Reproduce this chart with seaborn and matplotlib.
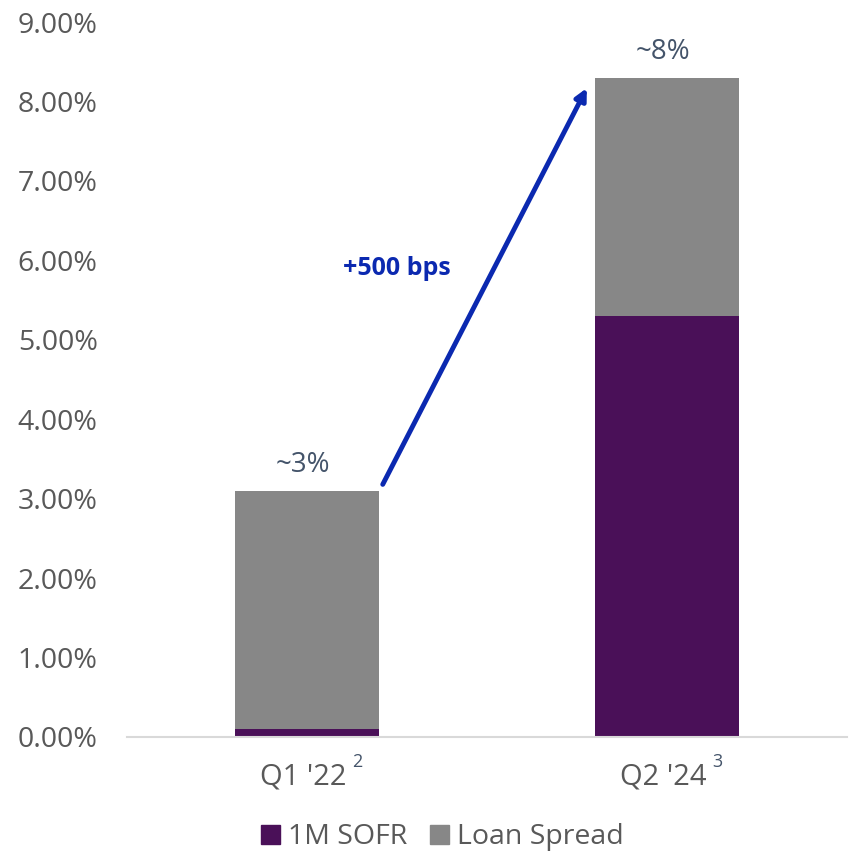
import pandas as pd
import matplotlib.pyplot as plt
import seaborn as sns
from matplotlib.patches import Patch

# data
quarters = ["Q1 '22", "Q2 '24"]
footnotes = ["2", "3"]
sofr = [0.10, 5.30]
spread = [3.00, 3.00]
approx_labels = ["~3%", "~8%"]
change_label = "+500 bps"

purple = "#4A1058"
grey = "#878787"
text_grey = "#595959"
slate = "#44546A"
blue = "#0B29B0"

df = pd.DataFrame({"quarter": quarters, "sofr": sofr, "spread": spread})
df["total"] = df["sofr"] + df["spread"]

sns.set_style("white")
plt.rcParams["font.family"] = ["Open Sans", "DejaVu Sans"]

fig = plt.figure(figsize=(8.51, 8.51), dpi=100)
ax = fig.add_axes([0.149, 0.134, 0.846, 0.840])

sns.barplot(data=df, x="quarter", y="total", color=grey, width=0.4, saturation=1, linewidth=0, ax=ax)
sns.barplot(data=df, x="quarter", y="sofr", color=purple, width=0.4, saturation=1, linewidth=0, ax=ax)

ax.set_xlim(-0.5, 1.5)
ax.set_ylim(0, 9)
ax.set_yticks(range(0, 10))
ax.set_yticklabels([f"{v:.2f}%" for v in range(0, 10)])
ax.tick_params(axis="y", length=0, pad=21, labelsize=20.5, labelcolor=text_grey)
ax.set_xticks([0, 1])
ax.set_xticklabels(["", ""])
ax.tick_params(axis="x", length=0)
ax.set_xlabel("")
ax.set_ylabel("")
for s in ["left", "right", "top"]:
    ax.spines[s].set_visible(False)
ax.spines["bottom"].set_color("#D9D9D9")
ax.spines["bottom"].set_linewidth(1.5)

# category labels with footnote markers
for i, (q, f) in enumerate(zip(quarters, footnotes)):
    ax.text(i - 0.01, -0.5, q, ha="center", va="center", fontsize=21, color=text_grey)
    ax.text(i + 0.14, -0.31, f, ha="center", va="center", fontsize=13, color=slate)

# totals above bars
for i, lab in enumerate(approx_labels):
    ax.text(i - 0.01, df["total"][i] + 0.33, lab, ha="center", va="center", fontsize=20, color=slate)

# arrow
ax.annotate("", xy=(0.778, 8.17), xytext=(0.211, 3.18),
            arrowprops=dict(arrowstyle="-|>", color=blue, lw=3.5, mutation_scale=17, shrinkA=0, shrinkB=0))
ax.text(0.25, 5.9, change_label, ha="center", va="center", fontsize=18, fontweight="bold", color=blue)

handles = [Patch(color=purple, label="1M SOFR"), Patch(color=grey, label="Loan Spread")]
fig.legend(handles=handles, loc="center", bbox_to_anchor=(0.52, 0.016), ncol=2, frameon=False,
           fontsize=20.5, labelcolor=text_grey, handlelength=0.65, handleheight=0.65,
           handletextpad=0.3, columnspacing=0.8)

fig.savefig("out.png", dpi=100)
